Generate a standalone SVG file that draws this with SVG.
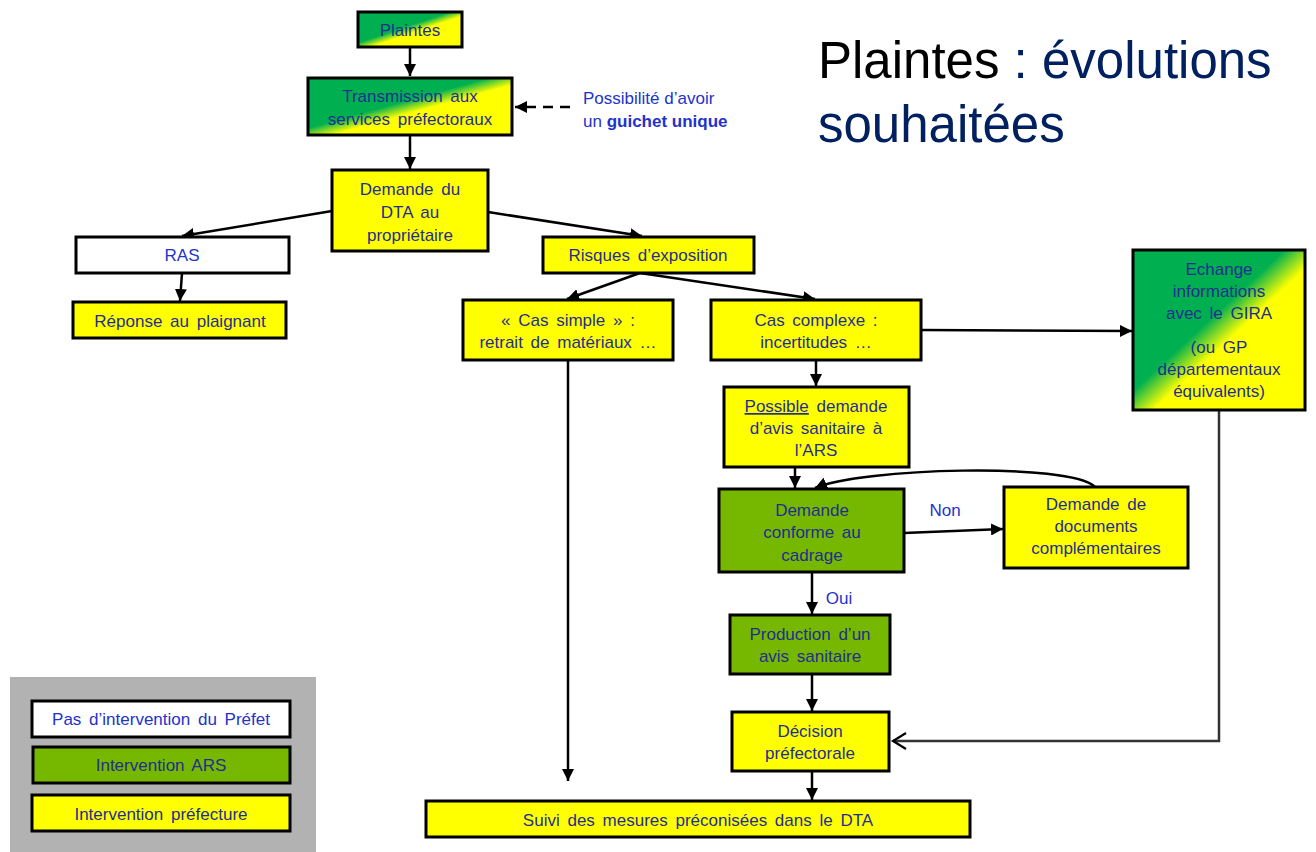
<svg xmlns="http://www.w3.org/2000/svg" width="1316" height="852" viewBox="0 0 1316 852">
<defs>
<linearGradient id="gy" x1="0" y1="0" x2="1" y2="1">
<stop offset="0" stop-color="#00B050"/>
<stop offset="0.44" stop-color="#00B050"/>
<stop offset="0.56" stop-color="#FFFF00"/>
<stop offset="1" stop-color="#FFFF00"/>
</linearGradient>
<marker id="ah" markerUnits="userSpaceOnUse" markerWidth="14" markerHeight="12" refX="12" refY="6" orient="auto">
<path d="M0,0 L12,6 L0,12 Z" fill="#000"/>
</marker>
<marker id="av" markerUnits="userSpaceOnUse" markerWidth="18" markerHeight="20" refX="15" refY="10" orient="auto">
<path d="M2,2 L15,10 L2,18" fill="none" stroke="#000" stroke-width="2.2"/>
</marker>
<style>
.b{stroke:#000;stroke-width:3}
.y{fill:#FFFF00}
.g{fill:#76B800}
.w{fill:#FFFFFF}
.d{fill:url(#gy)}
text{font-family:"Liberation Sans",Arial,sans-serif;font-size:17px;fill:#1F2F8F;text-anchor:middle;word-spacing:3px}
.lb{fill:#2233CC}
.c{fill:none;stroke:#000;stroke-width:2.5}
.t{font-size:51px;text-anchor:start;fill:#002060;word-spacing:0}
</style>
</defs>
<rect width="1316" height="852" fill="#fff"/>

<g id="title">
<text class="t" x="818" y="78" xml:space="preserve"><tspan fill="#000">Plaintes</tspan> : évolutions</text>
<text class="t" x="818" y="142">souhaitées</text>
</g>

<g id="legend">
<rect x="10" y="677" width="306" height="175" fill="#B2B2B2"/>
<rect class="b w" x="32" y="701" width="258" height="36"/>
<text x="161" y="725" class="lb">Pas d’intervention  du Préfet</text>
<rect class="b g" x="33" y="747" width="257" height="36"/>
<text x="161" y="771">Intervention  ARS</text>
<rect class="b y" x="32" y="795" width="258" height="36"/>
<text x="161" y="820">Intervention  préfecture</text>
</g>

<g id="connectors">
<line class="c" x1="410" y1="47" x2="410" y2="76" marker-end="url(#ah)"/>
<line class="c" x1="410" y1="135" x2="410" y2="169" marker-end="url(#ah)"/>
<line class="c" x1="570" y1="107" x2="515" y2="107" stroke-dasharray="10,7" marker-end="url(#ah)"/>
<line class="c" x1="332" y1="211" x2="182" y2="236" marker-end="url(#ah)"/>
<line class="c" x1="488" y1="212" x2="642" y2="236" marker-end="url(#ah)"/>
<line class="c" x1="182" y1="273" x2="180" y2="301" marker-end="url(#ah)"/>
<line class="c" x1="640" y1="273" x2="567" y2="299" marker-end="url(#ah)"/>
<line class="c" x1="640" y1="273" x2="815" y2="299" marker-end="url(#ah)"/>
<line class="c" x1="568" y1="360" x2="568" y2="781" marker-end="url(#ah)"/>
<line class="c" x1="921" y1="330" x2="1132" y2="331" marker-end="url(#ah)"/>
<line class="c" x1="816" y1="360" x2="816" y2="386" marker-end="url(#ah)"/>
<line class="c" x1="795" y1="467" x2="795" y2="488" marker-end="url(#ah)"/>
<path class="c" d="M1095,487 C1070,462 860,468 815,488" marker-end="url(#ah)"/>
<line class="c" x1="904" y1="533" x2="1003" y2="529" marker-end="url(#ah)"/>
<line class="c" x1="812" y1="572" x2="812" y2="614" marker-end="url(#ah)"/>
<line class="c" x1="812" y1="674" x2="812" y2="711" marker-end="url(#ah)"/>
<line class="c" x1="812" y1="771" x2="812" y2="800" marker-end="url(#ah)"/>
<path d="M1219,410 L1219,741 L893,741" fill="none" stroke="#333" stroke-width="2.5" marker-end="url(#av)"/>
<text x="945" y="516" class="lb">Non</text>
<text x="839" y="604" class="lb">Oui</text>
</g>

<g id="plaintes">
<rect class="b d" x="358" y="12" width="104" height="35"/>
<text x="410" y="36">Plaintes</text>
</g>
<g id="transmission">
<rect class="b d" x="308" y="78" width="204" height="57"/>
<text x="410" y="102">Transmission aux</text>
<text x="410" y="125">services  préfectoraux</text>
</g>
<g id="guichet">
<text x="583" y="104" class="lb" style="text-anchor:start;word-spacing:0">Possibilité d’avoir</text>
<text x="583" y="127" class="lb" style="text-anchor:start;word-spacing:0">un <tspan font-weight="bold">guichet unique</tspan></text>
</g>
<g id="dta">
<rect class="b y" x="332" y="170" width="156" height="81"/>
<text x="410" y="195">Demande du</text>
<text x="410" y="218">DTA au</text>
<text x="410" y="241">propriétaire</text>
</g>
<g id="ras">
<rect class="b w" x="76" y="237" width="213" height="36"/>
<text x="182" y="261" class="lb">RAS</text>
</g>
<g id="reponse">
<rect class="b y" x="73" y="302" width="213" height="36"/>
<text x="180" y="327">Réponse  au plaignant</text>
</g>
<g id="risques">
<rect class="b y" x="543" y="237" width="211" height="36"/>
<text x="648" y="261">Risques  d’exposition</text>
</g>
<g id="cassimple">
<rect class="b y" x="463" y="300" width="210" height="60"/>
<text x="568" y="326">« Cas simple » :</text>
<text x="568" y="348">retrait  de matériaux  …</text>
</g>
<g id="cascomplexe">
<rect class="b y" x="711" y="300" width="210" height="60"/>
<text x="816" y="326">Cas complexe :</text>
<text x="816" y="348">incertitudes  …</text>
</g>
<g id="echange">
<rect class="b d" x="1133" y="250" width="172" height="160"/>
<text x="1219" y="275">Echange</text>
<text x="1219" y="297">informations</text>
<text x="1219" y="319">avec  le GIRA</text>
<text x="1219" y="353">(ou  GP</text>
<text x="1219" y="375">départementaux</text>
<text x="1219" y="397">équivalents)</text>
</g>
<g id="possible">
<rect class="b y" x="724" y="387" width="185" height="80"/>
<text x="816" y="412"><tspan text-decoration="underline">Possible</tspan> demande</text>
<text x="816" y="434">d’avis  sanitaire à</text>
<text x="816" y="456">l’ARS</text>
</g>
<g id="conforme">
<rect class="b g" x="719" y="489" width="185" height="83"/>
<text x="812" y="516">Demande</text>
<text x="812" y="538">conforme  au</text>
<text x="812" y="561">cadrage</text>
</g>
<g id="documents">
<rect class="b y" x="1004" y="487" width="184" height="81"/>
<text x="1096" y="510">Demande  de</text>
<text x="1096" y="532">documents</text>
<text x="1096" y="554">complémentaires</text>
</g>
<g id="production">
<rect class="b g" x="730" y="615" width="160" height="59"/>
<text x="810" y="640">Production  d’un</text>
<text x="810" y="662">avis  sanitaire</text>
</g>
<g id="decision">
<rect class="b y" x="732" y="712" width="157" height="59"/>
<text x="810" y="737">Décision</text>
<text x="810" y="759">préfectorale</text>
</g>
<g id="suivi">
<rect class="b y" x="426" y="801" width="544" height="36"/>
<text x="698" y="826">Suivi  des mesures  préconisées  dans  le DTA</text>
</g>
</svg>
